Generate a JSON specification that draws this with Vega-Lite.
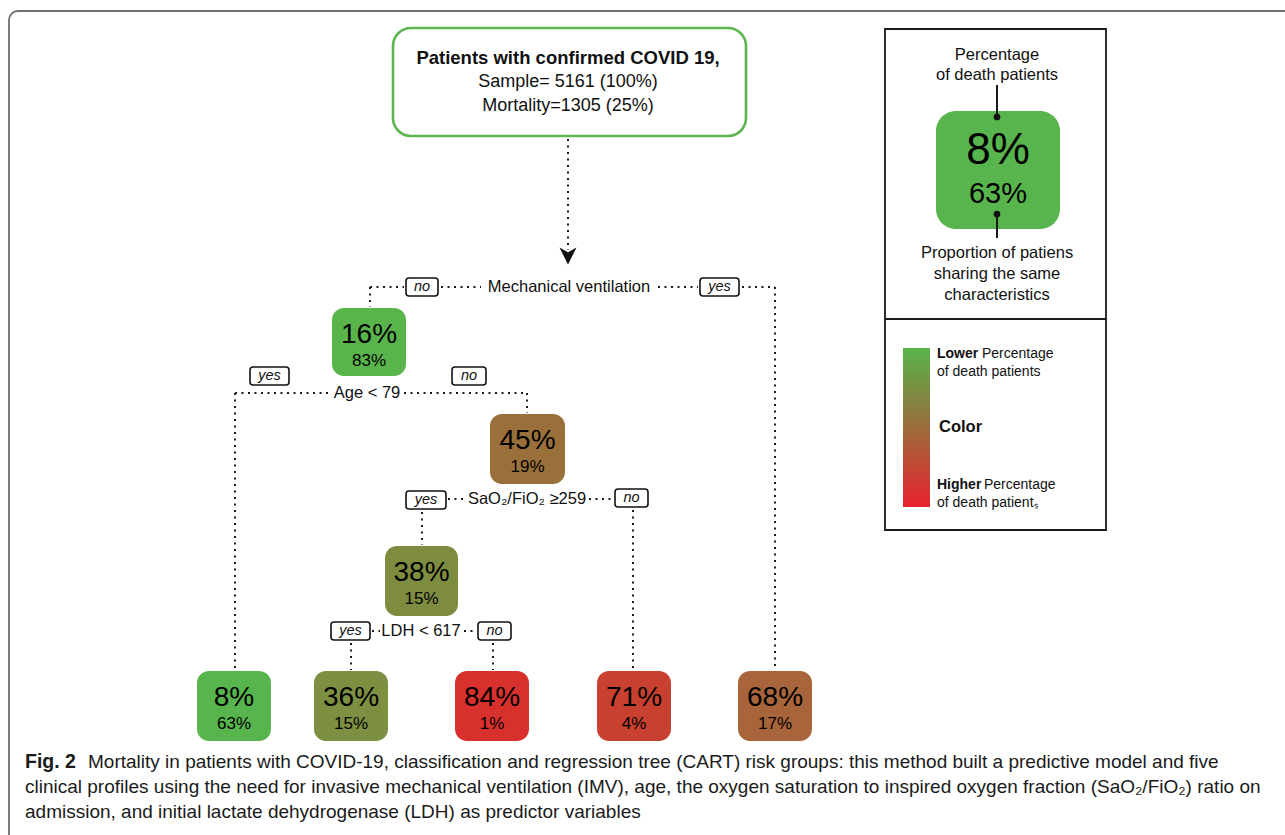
{
  "$schema": "https://vega.github.io/schema/vega-lite/v6.json",
  "width": 1285,
  "height": 835,
  "autosize": {"type": "fit", "contains": "padding"},
  "padding": 0,
  "background": "white",
  "config": {"view": {"stroke": null}, "text": {"font": "Liberation Sans", "baseline": "middle"}},
  "datasets": {
    "frame": [{"x1": 9, "x2": 1400, "y1": 11, "y2": 900}],
    "topbox": [{"x1": 393, "x2": 746, "y1": 28, "y2": 136}],
    "toptitle": [{"t": "Patients with confirmed COVID 19,", "x": 568, "y": 58}],
    "toplines": [{"t": "Sample= 5161 (100%)", "x": 568, "y": 82}, {"t": "Mortality=1305 (25%)", "x": 568, "y": 106}],
    "head": [{"x": 568, "y": 256}],
    "dots": [
      {"x1": 568, "y1": 139, "x2": 568, "y2": 250},
      {"x1": 370, "y1": 287, "x2": 404, "y2": 287},
      {"x1": 441, "y1": 287, "x2": 481, "y2": 287},
      {"x1": 658, "y1": 287, "x2": 698, "y2": 287},
      {"x1": 742, "y1": 287, "x2": 775, "y2": 287},
      {"x1": 370, "y1": 287, "x2": 370, "y2": 307},
      {"x1": 775, "y1": 287, "x2": 775, "y2": 670},
      {"x1": 235, "y1": 393, "x2": 330, "y2": 393},
      {"x1": 404, "y1": 393, "x2": 527, "y2": 393},
      {"x1": 235, "y1": 393, "x2": 235, "y2": 670},
      {"x1": 527, "y1": 393, "x2": 527, "y2": 413},
      {"x1": 448, "y1": 499, "x2": 465, "y2": 499},
      {"x1": 589, "y1": 499, "x2": 613, "y2": 499},
      {"x1": 422, "y1": 512, "x2": 422, "y2": 545},
      {"x1": 633, "y1": 510, "x2": 633, "y2": 670},
      {"x1": 372, "y1": 631, "x2": 380, "y2": 631},
      {"x1": 464, "y1": 631, "x2": 477, "y2": 631},
      {"x1": 351, "y1": 643, "x2": 351, "y2": 670},
      {"x1": 493, "y1": 643, "x2": 493, "y2": 670}
    ],
    "splits": [
      {"t": "Mechanical ventilation", "x": 569, "y": 287},
      {"t": "Age < 79", "x": 367, "y": 393},
      {"t": "SaO₂/FiO₂ ≥259", "x": 527, "y": 499},
      {"t": "LDH < 617", "x": 421, "y": 631}
    ],
    "tags": [
      {"t": "no", "x1": 406, "x2": 438, "y1": 278, "y2": 296, "cx": 422, "cy": 287},
      {"t": "yes", "x1": 700, "x2": 739, "y1": 278, "y2": 296, "cx": 719.5, "cy": 287},
      {"t": "yes", "x1": 250, "x2": 289, "y1": 367, "y2": 385, "cx": 269.5, "cy": 376},
      {"t": "no", "x1": 452, "x2": 486, "y1": 367, "y2": 385, "cx": 469, "cy": 376},
      {"t": "yes", "x1": 406, "x2": 446, "y1": 491, "y2": 509, "cx": 426, "cy": 500},
      {"t": "no", "x1": 615, "x2": 648, "y1": 489, "y2": 507, "cx": 631.5, "cy": 498},
      {"t": "yes", "x1": 331, "x2": 370, "y1": 622, "y2": 640, "cx": 350.5, "cy": 631},
      {"t": "no", "x1": 478, "x2": 511, "y1": 622, "y2": 640, "cx": 494.5, "cy": 631}
    ],
    "nodes": [
      {"pct": 16, "share": 83, "pl": "16%", "sl": "83%", "x1": 332, "x2": 406, "y1": 308, "y2": 376, "cx": 369},
      {"pct": 45, "share": 19, "pl": "45%", "sl": "19%", "x1": 490, "x2": 565, "y1": 414, "y2": 484, "cx": 527.5},
      {"pct": 38, "share": 15, "pl": "38%", "sl": "15%", "x1": 385, "x2": 458, "y1": 546, "y2": 616, "cx": 421.5},
      {"pct": 8, "share": 63, "pl": "8%", "sl": "63%", "x1": 197, "x2": 271, "y1": 671, "y2": 741, "cx": 234},
      {"pct": 36, "share": 15, "pl": "36%", "sl": "15%", "x1": 314, "x2": 388, "y1": 671, "y2": 741, "cx": 351},
      {"pct": 84, "share": 1, "pl": "84%", "sl": "1%", "x1": 455, "x2": 529, "y1": 671, "y2": 741, "cx": 492},
      {"pct": 71, "share": 4, "pl": "71%", "sl": "4%", "x1": 597, "x2": 671, "y1": 671, "y2": 741, "cx": 634},
      {"pct": 68, "share": 17, "pl": "68%", "sl": "17%", "x1": 738, "x2": 812, "y1": 671, "y2": 741, "cx": 775}
    ],
    "legendbox": [{"x1": 885, "x2": 1106, "y1": 29, "y2": 530}],
    "legendlines": [
      {"x1": 885, "y1": 319, "x2": 1106, "y2": 319},
      {"x1": 997, "y1": 85, "x2": 997, "y2": 117},
      {"x1": 997, "y1": 214, "x2": 997, "y2": 238}
    ],
    "legenddots": [{"x": 997, "y": 117}, {"x": 997, "y": 214}],
    "legendnode": [{"pct": 8, "pl": "8%", "sl": "63%", "x1": 936, "x2": 1060, "y1": 111, "y2": 229, "cx": 998}],
    "legendtexts": [
      {"t": "Percentage", "x": 997, "y": 55},
      {"t": "of death patients", "x": 997, "y": 75},
      {"t": "Proportion of patiens", "x": 997, "y": 253},
      {"t": "sharing the same", "x": 997, "y": 274},
      {"t": "characteristics", "x": 997, "y": 295}
    ],
    "gradbar": [{"x1": 903, "x2": 930, "y1": 348, "y2": 507}],
    "gradbold": [{"t": "Lower", "x": 937, "y": 354}, {"t": "Higher", "x": 937, "y": 485}],
    "gradnormal": [
      {"t": "Percentage", "x": 982, "y": 354},
      {"t": "of death patients", "x": 937, "y": 372},
      {"t": "Percentage", "x": 984, "y": 485},
      {"t": "of death patientₛ", "x": 937, "y": 503}
    ],
    "colorlabel": [{"t": "Color", "x": 939, "y": 427}],
    "capbold": [{"t": "Fig. 2", "x": 25, "y": 762}],
    "captext": [
      {"t": "Mortality in patients with COVID-19, classification and regression tree (CART) risk groups: this method built a predictive model and five", "x": 88, "y": 762},
      {"t": "clinical profiles using the need for invasive mechanical ventilation (IMV), age, the oxygen saturation to inspired oxygen fraction (SaO₂/FiO₂) ratio on", "x": 25, "y": 787},
      {"t": "admission, and initial lactate dehydrogenase (LDH) as predictor variables", "x": 25, "y": 812}
    ]
  },
  "layer": [
    {
      "data": {"name": "frame"},
      "mark": {"type": "rect", "clip": true, "cornerRadius": 9, "fillOpacity": 0, "stroke": "#707070", "strokeWidth": 1.8},
      "encoding": {
        "x": {"field": "x1", "type": "quantitative", "scale": {"domain": [0, 1285], "nice": false, "zero": false}, "axis": null},
        "x2": {"field": "x2"},
        "y": {"field": "y1", "type": "quantitative", "scale": {"domain": [0, 835], "reverse": true, "nice": false, "zero": false}, "axis": null},
        "y2": {"field": "y2"}
      }
    },
    {
      "data": {"name": "topbox"},
      "mark": {"type": "rect", "cornerRadius": 18, "fill": "white", "stroke": "#5cb54f", "strokeWidth": 2.6},
      "encoding": {
        "x": {"field": "x1", "type": "quantitative", "scale": {"domain": [0, 1285], "nice": false, "zero": false}, "axis": null},
        "x2": {"field": "x2"},
        "y": {"field": "y1", "type": "quantitative", "scale": {"domain": [0, 835], "reverse": true, "nice": false, "zero": false}, "axis": null},
        "y2": {"field": "y2"}
      }
    },
    {
      "data": {"name": "toptitle"},
      "mark": {"type": "text", "fontSize": 18.5, "fontWeight": "bold", "align": "center", "color": "#111"},
      "encoding": {
        "x": {"field": "x", "type": "quantitative", "scale": {"domain": [0, 1285], "nice": false, "zero": false}, "axis": null},
        "y": {"field": "y", "type": "quantitative", "scale": {"domain": [0, 835], "reverse": true, "nice": false, "zero": false}, "axis": null},
        "text": {"field": "t"}
      }
    },
    {
      "data": {"name": "toplines"},
      "mark": {"type": "text", "fontSize": 18, "align": "center", "color": "#111"},
      "encoding": {
        "x": {"field": "x", "type": "quantitative", "scale": {"domain": [0, 1285], "nice": false, "zero": false}, "axis": null},
        "y": {"field": "y", "type": "quantitative", "scale": {"domain": [0, 835], "reverse": true, "nice": false, "zero": false}, "axis": null},
        "text": {"field": "t"}
      }
    },
    {
      "data": {"name": "dots"},
      "mark": {"type": "rule", "color": "#1a1a1a", "strokeWidth": 2, "strokeDash": [2, 4.5]},
      "encoding": {
        "x": {"field": "x1", "type": "quantitative", "scale": {"domain": [0, 1285], "nice": false, "zero": false}, "axis": null},
        "x2": {"field": "x2"},
        "y": {"field": "y1", "type": "quantitative", "scale": {"domain": [0, 835], "reverse": true, "nice": false, "zero": false}, "axis": null},
        "y2": {"field": "y2"}
      }
    },
    {
      "data": {"name": "head"},
      "mark": {"type": "point", "shape": "M -1 -1 L 0 1 L 1 -1 L 0 -0.45 Z", "filled": true, "color": "#111", "opacity": 1, "size": 290},
      "encoding": {
        "x": {"field": "x", "type": "quantitative", "scale": {"domain": [0, 1285], "nice": false, "zero": false}, "axis": null},
        "y": {"field": "y", "type": "quantitative", "scale": {"domain": [0, 835], "reverse": true, "nice": false, "zero": false}, "axis": null}
      }
    },
    {
      "data": {"name": "splits"},
      "mark": {"type": "text", "fontSize": 16.5, "align": "center", "color": "#111"},
      "encoding": {
        "x": {"field": "x", "type": "quantitative", "scale": {"domain": [0, 1285], "nice": false, "zero": false}, "axis": null},
        "y": {"field": "y", "type": "quantitative", "scale": {"domain": [0, 835], "reverse": true, "nice": false, "zero": false}, "axis": null},
        "text": {"field": "t"}
      }
    },
    {
      "data": {"name": "tags"},
      "mark": {"type": "rect", "cornerRadius": 3, "fill": "white", "stroke": "#111", "strokeWidth": 1.6},
      "encoding": {
        "x": {"field": "x1", "type": "quantitative", "scale": {"domain": [0, 1285], "nice": false, "zero": false}, "axis": null},
        "x2": {"field": "x2"},
        "y": {"field": "y1", "type": "quantitative", "scale": {"domain": [0, 835], "reverse": true, "nice": false, "zero": false}, "axis": null},
        "y2": {"field": "y2"}
      }
    },
    {
      "data": {"name": "tags"},
      "mark": {"type": "text", "fontSize": 14.5, "fontStyle": "italic", "align": "center", "color": "#111"},
      "encoding": {
        "x": {"field": "cx", "type": "quantitative", "scale": {"domain": [0, 1285], "nice": false, "zero": false}, "axis": null},
        "y": {"field": "cy", "type": "quantitative", "scale": {"domain": [0, 835], "reverse": true, "nice": false, "zero": false}, "axis": null},
        "text": {"field": "t"}
      }
    },
    {
      "data": {"name": "nodes"},
      "mark": {"type": "rect", "cornerRadius": 12},
      "encoding": {
        "x": {"field": "x1", "type": "quantitative", "scale": {"domain": [0, 1285], "nice": false, "zero": false}, "axis": null},
        "x2": {"field": "x2"},
        "y": {"field": "y1", "type": "quantitative", "scale": {"domain": [0, 835], "reverse": true, "nice": false, "zero": false}, "axis": null},
        "y2": {"field": "y2"},
        "color": {"field": "pct", "type": "quantitative", "scale": {"domain": [8, 16, 38, 45, 68, 71, 84], "range": ["#58b44c", "#5ab44c", "#7e8c40", "#9a703a", "#a8643a", "#c8402f", "#d8302c"], "clamp": true}, "legend": null}
      }
    },
    {
      "data": {"name": "nodes"},
      "mark": {"type": "text", "fontSize": 28, "align": "center", "dy": 27, "color": "#000"},
      "encoding": {
        "x": {"field": "cx", "type": "quantitative", "scale": {"domain": [0, 1285], "nice": false, "zero": false}, "axis": null},
        "y": {"field": "y1", "type": "quantitative", "scale": {"domain": [0, 835], "reverse": true, "nice": false, "zero": false}, "axis": null},
        "text": {"field": "pl"}
      }
    },
    {
      "data": {"name": "nodes"},
      "mark": {"type": "text", "fontSize": 17, "align": "center", "dy": 53, "color": "#000"},
      "encoding": {
        "x": {"field": "cx", "type": "quantitative", "scale": {"domain": [0, 1285], "nice": false, "zero": false}, "axis": null},
        "y": {"field": "y1", "type": "quantitative", "scale": {"domain": [0, 835], "reverse": true, "nice": false, "zero": false}, "axis": null},
        "text": {"field": "sl"}
      }
    },
    {
      "data": {"name": "legendbox"},
      "mark": {"type": "rect", "fillOpacity": 0, "stroke": "#1a1a1a", "strokeWidth": 1.8},
      "encoding": {
        "x": {"field": "x1", "type": "quantitative", "scale": {"domain": [0, 1285], "nice": false, "zero": false}, "axis": null},
        "x2": {"field": "x2"},
        "y": {"field": "y1", "type": "quantitative", "scale": {"domain": [0, 835], "reverse": true, "nice": false, "zero": false}, "axis": null},
        "y2": {"field": "y2"}
      }
    },
    {
      "data": {"name": "legendnode"},
      "mark": {"type": "rect", "cornerRadius": 20},
      "encoding": {
        "x": {"field": "x1", "type": "quantitative", "scale": {"domain": [0, 1285], "nice": false, "zero": false}, "axis": null},
        "x2": {"field": "x2"},
        "y": {"field": "y1", "type": "quantitative", "scale": {"domain": [0, 835], "reverse": true, "nice": false, "zero": false}, "axis": null},
        "y2": {"field": "y2"},
        "color": {"field": "pct", "type": "quantitative", "scale": {"domain": [8, 16, 38, 45, 68, 71, 84], "range": ["#58b44c", "#5ab44c", "#7e8c40", "#9a703a", "#a8643a", "#c8402f", "#d8302c"], "clamp": true}, "legend": null}
      }
    },
    {
      "data": {"name": "legendnode"},
      "mark": {"type": "text", "fontSize": 44, "align": "center", "dy": 40, "color": "#000"},
      "encoding": {
        "x": {"field": "cx", "type": "quantitative", "scale": {"domain": [0, 1285], "nice": false, "zero": false}, "axis": null},
        "y": {"field": "y1", "type": "quantitative", "scale": {"domain": [0, 835], "reverse": true, "nice": false, "zero": false}, "axis": null},
        "text": {"field": "pl"}
      }
    },
    {
      "data": {"name": "legendnode"},
      "mark": {"type": "text", "fontSize": 29, "align": "center", "dy": 83, "color": "#000"},
      "encoding": {
        "x": {"field": "cx", "type": "quantitative", "scale": {"domain": [0, 1285], "nice": false, "zero": false}, "axis": null},
        "y": {"field": "y1", "type": "quantitative", "scale": {"domain": [0, 835], "reverse": true, "nice": false, "zero": false}, "axis": null},
        "text": {"field": "sl"}
      }
    },
    {
      "data": {"name": "legendlines"},
      "mark": {"type": "rule", "color": "#1a1a1a", "strokeWidth": 2},
      "encoding": {
        "x": {"field": "x1", "type": "quantitative", "scale": {"domain": [0, 1285], "nice": false, "zero": false}, "axis": null},
        "x2": {"field": "x2"},
        "y": {"field": "y1", "type": "quantitative", "scale": {"domain": [0, 835], "reverse": true, "nice": false, "zero": false}, "axis": null},
        "y2": {"field": "y2"}
      }
    },
    {
      "data": {"name": "legenddots"},
      "mark": {"type": "point", "shape": "circle", "filled": true, "color": "#111", "opacity": 1, "size": 45},
      "encoding": {
        "x": {"field": "x", "type": "quantitative", "scale": {"domain": [0, 1285], "nice": false, "zero": false}, "axis": null},
        "y": {"field": "y", "type": "quantitative", "scale": {"domain": [0, 835], "reverse": true, "nice": false, "zero": false}, "axis": null}
      }
    },
    {
      "data": {"name": "legendtexts"},
      "mark": {"type": "text", "fontSize": 16.5, "align": "center", "color": "#111"},
      "encoding": {
        "x": {"field": "x", "type": "quantitative", "scale": {"domain": [0, 1285], "nice": false, "zero": false}, "axis": null},
        "y": {"field": "y", "type": "quantitative", "scale": {"domain": [0, 835], "reverse": true, "nice": false, "zero": false}, "axis": null},
        "text": {"field": "t"}
      }
    },
    {
      "data": {"name": "gradbar"},
      "mark": {"type": "rect", "fill": {"gradient": "linear", "x1": 0, "y1": 0, "x2": 0, "y2": 1, "stops": [{"offset": 0, "color": "#58b44c"}, {"offset": 0.5, "color": "#9a6c3a"}, {"offset": 1, "color": "#e8222e"}]}},
      "encoding": {
        "x": {"field": "x1", "type": "quantitative", "scale": {"domain": [0, 1285], "nice": false, "zero": false}, "axis": null},
        "x2": {"field": "x2"},
        "y": {"field": "y1", "type": "quantitative", "scale": {"domain": [0, 835], "reverse": true, "nice": false, "zero": false}, "axis": null},
        "y2": {"field": "y2"}
      }
    },
    {
      "data": {"name": "gradbold"},
      "mark": {"type": "text", "fontSize": 14, "fontWeight": "bold", "align": "left", "color": "#111"},
      "encoding": {
        "x": {"field": "x", "type": "quantitative", "scale": {"domain": [0, 1285], "nice": false, "zero": false}, "axis": null},
        "y": {"field": "y", "type": "quantitative", "scale": {"domain": [0, 835], "reverse": true, "nice": false, "zero": false}, "axis": null},
        "text": {"field": "t"}
      }
    },
    {
      "data": {"name": "gradnormal"},
      "mark": {"type": "text", "fontSize": 14, "align": "left", "color": "#111"},
      "encoding": {
        "x": {"field": "x", "type": "quantitative", "scale": {"domain": [0, 1285], "nice": false, "zero": false}, "axis": null},
        "y": {"field": "y", "type": "quantitative", "scale": {"domain": [0, 835], "reverse": true, "nice": false, "zero": false}, "axis": null},
        "text": {"field": "t"}
      }
    },
    {
      "data": {"name": "colorlabel"},
      "mark": {"type": "text", "fontSize": 16.5, "fontWeight": "bold", "align": "left", "color": "#111"},
      "encoding": {
        "x": {"field": "x", "type": "quantitative", "scale": {"domain": [0, 1285], "nice": false, "zero": false}, "axis": null},
        "y": {"field": "y", "type": "quantitative", "scale": {"domain": [0, 835], "reverse": true, "nice": false, "zero": false}, "axis": null},
        "text": {"field": "t"}
      }
    },
    {
      "data": {"name": "capbold"},
      "mark": {"type": "text", "fontSize": 19.5, "fontWeight": "bold", "align": "left", "color": "#1a1a1a"},
      "encoding": {
        "x": {"field": "x", "type": "quantitative", "scale": {"domain": [0, 1285], "nice": false, "zero": false}, "axis": null},
        "y": {"field": "y", "type": "quantitative", "scale": {"domain": [0, 835], "reverse": true, "nice": false, "zero": false}, "axis": null},
        "text": {"field": "t"}
      }
    },
    {
      "data": {"name": "captext"},
      "mark": {"type": "text", "fontSize": 19, "align": "left", "color": "#1a1a1a"},
      "encoding": {
        "x": {"field": "x", "type": "quantitative", "scale": {"domain": [0, 1285], "nice": false, "zero": false}, "axis": null},
        "y": {"field": "y", "type": "quantitative", "scale": {"domain": [0, 835], "reverse": true, "nice": false, "zero": false}, "axis": null},
        "text": {"field": "t"}
      }
    }
  ]
}
